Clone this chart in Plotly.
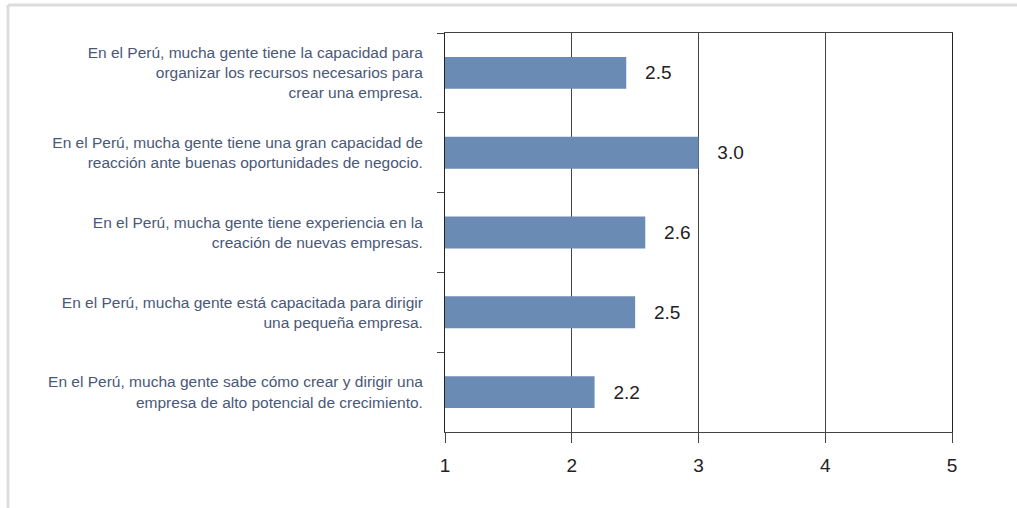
import plotly.graph_objects as go

categories = [
    "En el Perú, mucha gente tiene la capacidad para<br>organizar los recursos necesarios para<br>crear una empresa.",
    "En el Perú, mucha gente tiene una gran capacidad de<br>reacción ante buenas oportunidades de negocio.",
    "En el Perú, mucha gente tiene experiencia en la<br>creación de nuevas empresas.",
    "En el Perú, mucha gente está capacitada para dirigir<br>una pequeña empresa.",
    "En el Perú, mucha gente sabe cómo crear y dirigir una<br>empresa de alto potencial de crecimiento.",
]
values = [2.43, 3.0, 2.58, 2.5, 2.18]
value_labels = ["2.5", "3.0", "2.6", "2.5", "2.2"]
x_ticks = [1, 2, 3, 4, 5]

fig = go.Figure()
fig.add_trace(go.Bar(
    y=categories,
    x=[v - 1 for v in values],
    base=1,
    orientation="h",
    marker=dict(color="#6a8bb4", line=dict(width=0)),
    width=0.4,
    text=value_labels,
    texttemplate="   %{text}",
    textposition="outside",
    textfont=dict(family="Liberation Sans, Arial", size=19, color="#222222"),
    cliponaxis=False,
    hoverinfo="skip",
))

fig.update_layout(
    width=1017, height=508,
    margin=dict(l=445, r=65, t=33, b=76),
    paper_bgcolor="white",
    plot_bgcolor="white",
    showlegend=False,
    font=dict(family="Liberation Sans, Arial"),
    shapes=[
        dict(type="line", xref="paper", yref="paper",
             x0=(8 - 445) / 507, x1=(1017 - 445) / 507,
             y0=(432 - 5) / 399, y1=(432 - 5) / 399,
             line=dict(color="#dcdcdc", width=3)),
        dict(type="line", xref="paper", yref="paper",
             x0=(8 - 445) / 507, x1=(8 - 445) / 507,
             y0=(432 - 5) / 399, y1=(432 - 520) / 399,
             line=dict(color="#dcdcdc", width=3)),
    ],
)

fig.update_xaxes(
    range=[1, 5],
    tickvals=x_ticks,
    ticktext=[str(t) for t in x_ticks],
    showgrid=True, gridcolor="#444444", gridwidth=1,
    showline=True, linecolor="#444444", linewidth=1, mirror=True,
    ticks="outside", ticklen=10, tickcolor="#444444",
    tickfont=dict(size=19, color="#222222"),
    ticklabelstandoff=6,
    zeroline=False,
)
fig.update_yaxes(
    type="category",
    autorange="reversed",
    showline=True, linecolor="#222222", linewidth=1, mirror=True,
    ticks="outside", ticklen=7, tickcolor="#444444",
    tickson="boundaries",
    showgrid=False,
    tickfont=dict(size=15.5, color="#4a5878"),
    ticklabelstandoff=18,
)

fig.write_html(
    "out.html",
    config={"displayModeBar": False},
    post_script="document.body.style.margin='0';document.body.style.overflow='hidden';",
)
